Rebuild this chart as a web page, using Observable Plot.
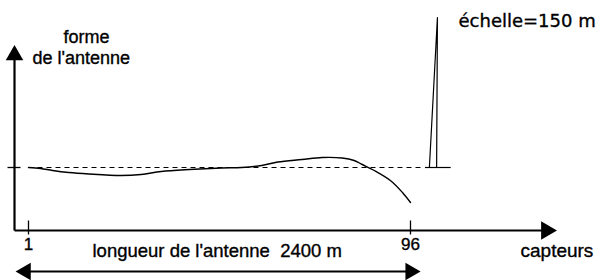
<!DOCTYPE html>
<html>
<head>
<meta charset="utf-8">
<script src="https://cdn.jsdelivr.net/npm/d3@7"></script>
<script src="https://cdn.jsdelivr.net/npm/@observablehq/plot@0.6"></script>
<style>
  html, body { margin: 0; padding: 0; background: #fff; }
  svg { display: block; }
</style>
</head>
<body>
<div id="chart"></div>
<script>
// capteur index along the streamer
const sensors   = [1, 4, 7, 11, 16, 24, 29, 34, 41, 49, 54, 59, 63, 69, 74, 79, 82, 84, 87, 91, 94, 96];
// lateral deviation of the streamer shape (m)
const deviation = [0, -1, -3, -5, -6.5, -8, -7, -4, -2, -0.5, 0, 2, 5.5, 8, 10, 9.5, 7, 3, -3, -13, -25, -35];
// tick labels of the sensor axis
const tickSensors = [1, 96];
const tickLabels  = ["1", "96"];
// scale bar
const scaleLength = 150;          // m
const scaleLabel  = "échelle=150 m";
const yLabel      = ["forme", "de l'antenne"];
const xLabel      = "capteurs";
const lengthLabel = "longueur de l'antenne  2400 m";

const shape = sensors.map((s, i) => ({s, d: deviation[i]}));
const ticks = tickSensors.map((s, i) => ({s, label: tickLabels[i]}));

// frame geometry (in data units)
const xDomain = [-5.963, 146.24];
const yDomain = [-113, 167];
const axisX = -2.48;     // sensor position of the vertical axis
const axisY = -63;       // deviation level of the horizontal axis
const arrowY = -104;     // level of the length arrow

const font = "'Liberation Sans', Arial, Helvetica, sans-serif";
const ink = {fill: "#000", stroke: "#000", strokeWidth: 0.35};

const chart = Plot.plot({
  width: 612,
  height: 280,
  margin: 0,
  x: {domain: xDomain, axis: null},
  y: {domain: yDomain, axis: null},
  style: {fontFamily: font, background: "#fff", color: "#000"},
  marks: [
    // reference (straight) line
    Plot.link([{x1: 1, x2: 99}], {x1: "x1", x2: "x2", y1: 0, y2: 0, stroke: "#000", strokeWidth: 1.2, strokeDasharray: "5,4"}),
    // measured streamer shape
    Plot.line(shape, {x: "s", y: "d", stroke: "#000", strokeWidth: 1.4, curve: "catmull-rom"}),
    // scale bar
    Plot.link([{x1: 99.6, x2: 106}], {x1: "x1", x2: "x2", y1: 0, y2: 0, stroke: "#000", strokeWidth: 1.2}),
    Plot.line([{s: 100.7, d: 0}, {s: 102.7, d: scaleLength}, {s: 102.5, d: 0}], {x: "s", y: "d", stroke: "#000", strokeWidth: 1.2}),
    // vertical axis
    Plot.link([{y1: axisY, y2: 108}], {x1: axisX, x2: axisX, y1: "y1", y2: "y2", stroke: "#000", strokeWidth: 2.2}),
    Plot.dot([{y: 112.3}], {x: axisX, y: "y", symbol: "triangle", r: 6.5, fill: "#000", stroke: null}),
    Plot.link([{x1: -4.22, x2: -0.99}], {x1: "x1", x2: "x2", y1: 0, y2: 0, stroke: "#000", strokeWidth: 1.3}),
    // horizontal axis
    Plot.link([{x1: axisX, x2: 129}], {x1: "x1", x2: "x2", y1: axisY, y2: axisY, stroke: "#000", strokeWidth: 2}),
    Plot.dot([{x: 129.8}], {x: "x", y: axisY, symbol: "triangle", r: 6.8, rotate: 90, fill: "#000", stroke: null}),
    // sensor ticks
    Plot.link(ticks, {x1: "s", x2: "s", y1: axisY + 10, y2: axisY - 4, stroke: "#000", strokeWidth: 1.3}),
    Plot.text(ticks, {x: "s", y: axisY, text: "label", dy: 14, lineAnchor: "middle", fontSize: 17, ...ink}),
    // length arrow
    Plot.link([{x1: 1, x2: 95}], {x1: "x1", x2: "x2", y1: arrowY, y2: arrowY, stroke: "#000", strokeWidth: 2}),
    Plot.dot([{x: 0.3, r: -90}, {x: 96.0, r: 90}], {x: "x", y: arrowY, rotate: "r", symbol: "triangle", r: 6.5, fill: "#000", stroke: null}),
    // labels
    Plot.text([yLabel[0]], {frameAnchor: "top-left", dx: 63, dy: 37, textAnchor: "start", lineAnchor: "middle", fontSize: 18, ...ink}),
    Plot.text([yLabel[1]], {frameAnchor: "top-left", dx: 32, dy: 58, textAnchor: "start", lineAnchor: "middle", fontSize: 18, ...ink}),
    Plot.text([scaleLabel], {frameAnchor: "top-left", dx: 458, dy: 21, textAnchor: "start", lineAnchor: "middle", fontSize: 18, ...ink, fontFamily: "'DejaVu Sans', sans-serif"}),
    Plot.text([xLabel], {frameAnchor: "top-left", dx: 520, dy: 250, textAnchor: "start", lineAnchor: "middle", fontSize: 19, ...ink}),
    Plot.text([lengthLabel], {frameAnchor: "top-left", dx: 92, dy: 251, textAnchor: "start", lineAnchor: "middle", fontSize: 18.5, ...ink})
  ]
});

document.getElementById("chart").append(chart);
</script>
</body>
</html>
